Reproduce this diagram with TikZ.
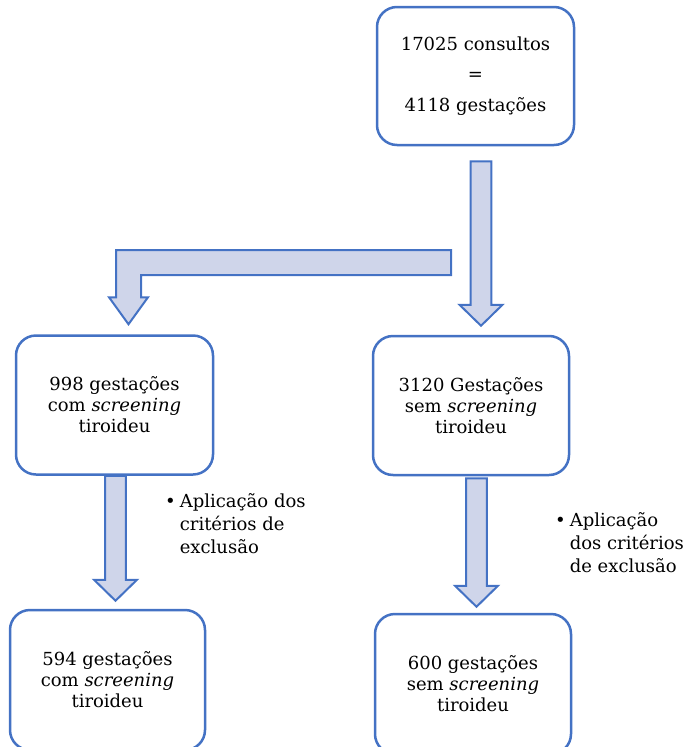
\documentclass[tikz,border=0pt]{standalone}
\usepackage{fontspec}
\setmainfont{DejaVu Serif}
\usetikzlibrary{calc}
\definecolor{caixaazul}{RGB}{68,114,196}
\definecolor{setafundo}{RGB}{207,213,234}

\tikzset{
  caixa/.style={draw=caixaazul, line width=2.5pt, rounded corners=20pt, minimum width=197pt, minimum height=139pt, inner sep=0pt, align=center, font=\fontsize{18}{21}\selectfont},
  nota/.style={anchor=north west, inner sep=0pt, align=left, font=\fontsize{18}{23}\selectfont},
  setabaixo/.style={draw=caixaazul, fill=setafundo, line width=2pt, line join=miter,
    to path={($(\tikztostart)+(-10.3,0)$) -- ($(\tikztostart)+(10.3,0)$) -- ($(\tikztostart |- \tikztotarget)+(10.3,-21)$) -- ($(\tikztostart |- \tikztotarget)+(21.5,-21)$) -- (\tikztostart |- \tikztotarget) -- ($(\tikztostart |- \tikztotarget)+(-21.5,-21)$) -- ($(\tikztostart |- \tikztotarget)+(-10.3,-21)$) -- cycle}},
  setadobrada/.style={draw=caixaazul, fill=setafundo, line width=2pt, line join=miter,
    to path={($(\tikztostart)+(0,-12.5)$) -- ($(\tikztotarget |- \tikztostart)+(-12.5,-12.5)$) -- ($(\tikztotarget)+(-12.5,-27)$) -- ($(\tikztotarget)+(-19.5,-27)$) -- (\tikztotarget) -- ($(\tikztotarget)+(19.5,-27)$) -- ($(\tikztotarget)+(12.5,-27)$) -- ($(\tikztotarget |- \tikztostart)+(12.5,12.5)$) -- ($(\tikztostart)+(0,12.5)$) -- cycle}}
}

\begin{document}
\begin{tikzpicture}[x=1pt,y=1pt,yscale=-1,xscale=1]
        \useasboundingbox (0,0) rectangle (685,747);
        \clip (0,0) rectangle (685,747);

        %Shape: Rounded Rect [consultos]
        \node [caixa, minimum height=138pt, font=\fontsize{18}{30.5}\selectfont] (consultos) at (475.5,76) {17025 consultos\\=\\4118 gestações};
        %Shape: Rounded Rect [com screening]
        \node [caixa] (comscr) at (114.5,405) {998 gestações\\com \textit{screening}\\tiroideu};
        %Shape: Rounded Rect [sem screening]
        \node [caixa, minimum width=196pt] (semscr) at (471,405.5) {3120 Gestações\\sem \textit{screening}\\tiroideu};
        %Shape: Rounded Rect [com screening, final]
        \node [caixa, minimum width=195pt, minimum height=140pt] (comfinal) at (107.5,680) {594 gestações\\com \textit{screening}\\tiroideu};
        %Shape: Rounded Rect [sem screening, final]
        \node [caixa, minimum width=196pt, minimum height=140pt] (semfinal) at (473,684) {600 gestações\\sem \textit{screening}\\tiroideu};

        % Arrow ends
        \coordinate (a1) at ($(consultos.south)+(5.5,15)$);
        \coordinate (b1) at ($(semscr.north)+(10,-9)$);
        \coordinate (ramo) at (451,262.5);
        \coordinate (b2) at ($(comscr.north)+(14,-10)$);
        \coordinate (a3) at ($(comscr.south)+(1,0)$);
        \coordinate (b3) at ($(comfinal.north)+(8,-8)$);
        \coordinate (a4) at ($(semscr.south)+(5.5,2)$);
        \coordinate (b4) at ($(semfinal.north)+(3.5,-6)$);

        %Shape: Down Arrow
        \draw [setabaixo] (a1) to (b1);
        %Shape: Bent Arrow
        \draw [setadobrada] (ramo) to (b2);
        %Shape: Down Arrow
        \draw [setabaixo] (a3) to (b3);
        %Shape: Down Arrow
        \draw [setabaixo] (a4) to (b4);

        % Text Node
        \node [nota] (criterios1) at (165,493) {\textbullet\hspace{4pt}Aplicação dos\\\hphantom{\textbullet}\hspace{4pt}critérios de\\\hphantom{\textbullet}\hspace{4pt}exclusão};
        % Text Node
        \node [nota] (criterios2) at (555,512) {\textbullet\hspace{4pt}Aplicação\\\hphantom{\textbullet}\hspace{4pt}dos critérios\\\hphantom{\textbullet}\hspace{4pt}de exclusão};

\end{tikzpicture}
\end{document}
